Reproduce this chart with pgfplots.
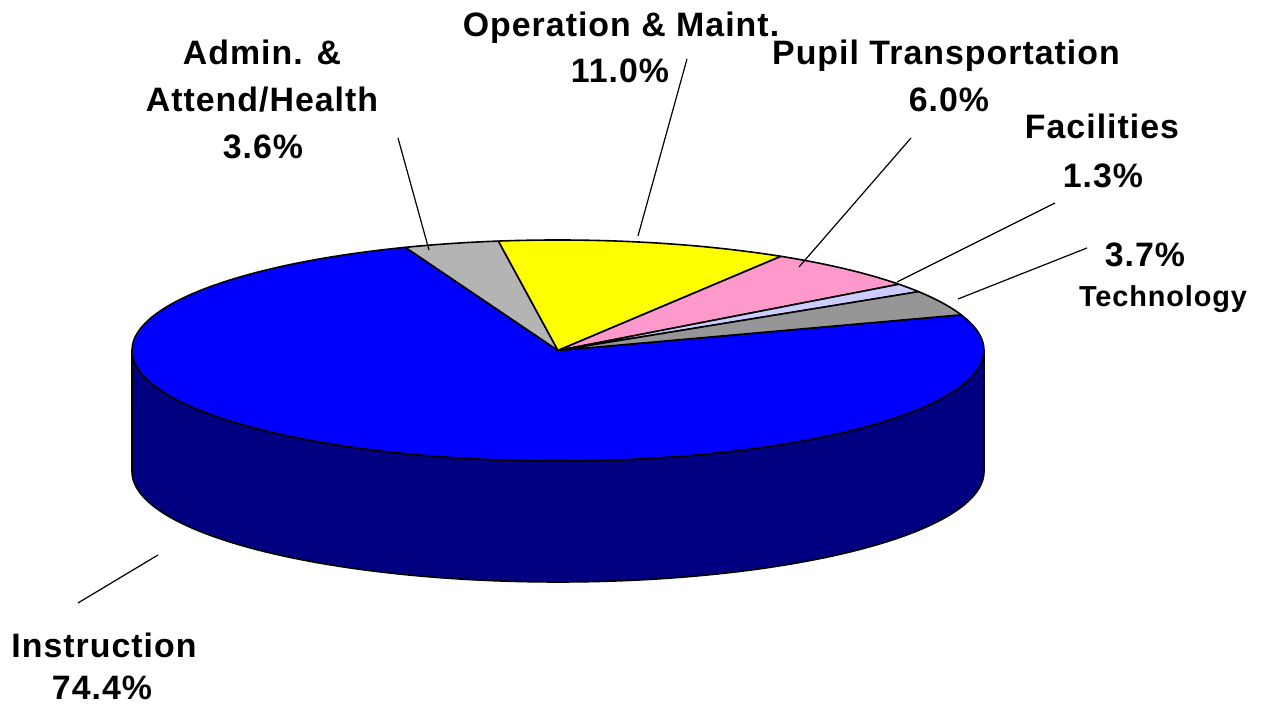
\documentclass[border=0pt]{standalone}
\usepackage{pgfplots}
\pgfplotsset{compat=1.18}
\usepackage{fontspec}
\setmainfont{Liberation Sans}
\newfontfamily\lab[LetterSpace=3]{Liberation Sans}
\definecolor{instrcol}{HTML}{0000FF}
\definecolor{sidecol}{HTML}{000080}
\definecolor{admincol}{HTML}{B4B4B4}
\definecolor{opcol}{HTML}{FFFF00}
\definecolor{pupilcol}{HTML}{FF99CC}
\definecolor{faccol}{HTML}{CCCCFF}
\definecolor{techcol}{HTML}{969696}
% data (percent)
\def\vAdmin{3.6}
\def\vOper{11.0}
\def\vPupil{6.0}
\def\vFac{1.3}
\def\vTech{3.7}
\def\vInstr{74.4}
\def\cx{558}\def\cy{358.5}\def\ra{426}\def\rb{110.5}\def\dep{121}
\begin{document}
\begin{tikzpicture}
\pgfmathsetmacro\tA{111}
\pgfmathsetmacro\tB{\tA-3.6*\vAdmin}
\pgfmathsetmacro\tC{\tB-3.6*\vOper}
\pgfmathsetmacro\tD{\tC-3.6*\vPupil}
\pgfmathsetmacro\tE{\tD-3.6*\vFac}
\pgfmathsetmacro\tF{\tE-3.6*\vTech}
\pgfmathsetmacro\tG{\tF+360}
\begin{axis}[hide axis, scale only axis, width=1263bp, height=709bp,
  xmin=0, xmax=1263, ymin=0, ymax=709, clip=false, at={(0,0)}, anchor=south west]
% side
\filldraw[fill=sidecol, draw=black, line width=1.6bp, line join=round]
  plot[domain=180:360, samples=160] (axis cs:{\cx+\ra*cos(\x)},{\cy+\rb*sin(\x)})
  -- plot[domain=360:180, samples=160] (axis cs:{\cx+\ra*cos(\x)},{\cy-\dep+\rb*sin(\x)}) -- cycle;
% top slices
\filldraw[fill=instrcol, draw=black, line width=1.6bp, line join=round] (axis cs:\cx,\cy)
  -- plot[domain=\tA:\tG, samples=200] (axis cs:{\cx+\ra*cos(\x)},{\cy+\rb*sin(\x)}) -- cycle;
\filldraw[fill=admincol, draw=black, line width=1.6bp, line join=round] (axis cs:\cx,\cy)
  -- plot[domain=\tB:\tA, samples=20] (axis cs:{\cx+\ra*cos(\x)},{\cy+\rb*sin(\x)}) -- cycle;
\filldraw[fill=opcol, draw=black, line width=1.6bp, line join=round] (axis cs:\cx,\cy)
  -- plot[domain=\tC:\tB, samples=40] (axis cs:{\cx+\ra*cos(\x)},{\cy+\rb*sin(\x)}) -- cycle;
\filldraw[fill=pupilcol, draw=black, line width=1.6bp, line join=round] (axis cs:\cx,\cy)
  -- plot[domain=\tD:\tC, samples=30] (axis cs:{\cx+\ra*cos(\x)},{\cy+\rb*sin(\x)}) -- cycle;
\filldraw[fill=faccol, draw=black, line width=1.6bp, line join=round] (axis cs:\cx,\cy)
  -- plot[domain=\tE:\tD, samples=10] (axis cs:{\cx+\ra*cos(\x)},{\cy+\rb*sin(\x)}) -- cycle;
\filldraw[fill=techcol, draw=black, line width=1.6bp, line join=round] (axis cs:\cx,\cy)
  -- plot[domain=\tF:\tE, samples=20] (axis cs:{\cx+\ra*cos(\x)},{\cy+\rb*sin(\x)}) -- cycle;
% leader lines
\draw[line width=1.2bp] (axis cs:398,571) -- (axis cs:429,459);
\draw[line width=1.2bp] (axis cs:687,650) -- (axis cs:638,473);
\draw[line width=1.2bp] (axis cs:911,571) -- (axis cs:799,442);
\draw[line width=1.2bp] (axis cs:1055,506) -- (axis cs:897,427);
\draw[line width=1.2bp] (axis cs:1087,461) -- (axis cs:958,410);
\draw[line width=1.2bp] (axis cs:158,154) -- (axis cs:78,106);
% labels
\begin{scope}[every node/.style={anchor=base, inner sep=0pt, font=\lab\bfseries\fontsize{34}{40}\selectfont}]
\node at (axis cs:262,644) {Admin. \&};
\node at (axis cs:262,597) {Attend/Health};
\node at (axis cs:263,550) {3.6\%};
\node at (axis cs:621,672) {Operation \& Maint.};
\node at (axis cs:620,626) {11.0\%};
\node at (axis cs:946,644) {Pupil Transportation};
\node at (axis cs:949,597) {6.0\%};
\node at (axis cs:1102,570) {Facilities};
\node at (axis cs:1103,521) {1.3\%};
\node at (axis cs:1145,442) {3.7\%};
\node[font=\lab\bfseries\fontsize{29}{34}\selectfont] at (axis cs:1163,402) {Technology};
\node at (axis cs:104,51) {Instruction};
\node at (axis cs:102,9) {74.4\%};
\end{scope}
\end{axis}
\pgfresetboundingbox
\path (0,0) rectangle (1263bp,709bp);
\end{tikzpicture}
\end{document}
